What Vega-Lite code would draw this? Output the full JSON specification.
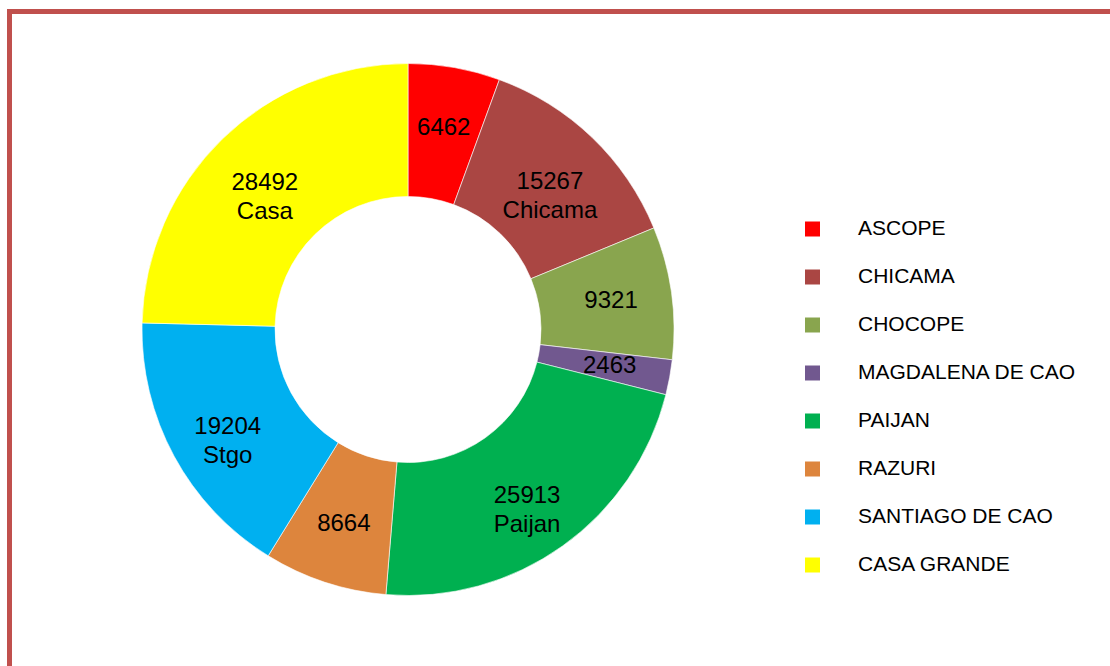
{
  "$schema": "https://vega.github.io/schema/vega-lite/v6.json",
  "autosize": {"type": "none"},
  "width": 1100.5,
  "height": 654.5,
  "padding": {"left": 9.5, "top": 11.5, "right": 0, "bottom": 0},
  "background": "#ffffff",
  "view": {
    "stroke": "#C0504D",
    "strokeWidth": 5,
    "strokeDash": [1755, 1755],
    "strokeDashOffset": 654.5
  },
  "data": {
    "values": [
      {"orden": 1, "distrito": "ASCOPE", "poblacion": 6462, "etiqueta": "6462"},
      {"orden": 2, "distrito": "CHICAMA", "poblacion": 15267, "etiqueta": "15267\nChicama"},
      {"orden": 3, "distrito": "CHOCOPE", "poblacion": 9321, "etiqueta": "9321"},
      {"orden": 4, "distrito": "MAGDALENA DE CAO", "poblacion": 2463, "etiqueta": "2463"},
      {"orden": 5, "distrito": "PAIJAN", "poblacion": 25913, "etiqueta": "25913\nPaijan"},
      {"orden": 6, "distrito": "RAZURI", "poblacion": 8664, "etiqueta": "8664"},
      {"orden": 7, "distrito": "SANTIAGO DE CAO", "poblacion": 19204, "etiqueta": "19204\nStgo"},
      {"orden": 8, "distrito": "CASA GRANDE", "poblacion": 28492, "etiqueta": "28492\nCasa"}
    ]
  },
  "encoding": {
    "theta": {"field": "poblacion", "type": "quantitative", "stack": true},
    "order": {"field": "orden", "type": "quantitative", "sort": "ascending"},
    "color": {
      "field": "distrito",
      "type": "nominal",
      "scale": {
        "domain": ["ASCOPE", "CHICAMA", "CHOCOPE", "MAGDALENA DE CAO", "PAIJAN", "RAZURI", "SANTIAGO DE CAO", "CASA GRANDE"],
        "range": ["#FF0000", "#AA4643", "#89A54E", "#71588F", "#00B050", "#DD853D", "#00B0F0", "#FFFF00"]
      },
      "legend": {
        "title": null,
        "orient": "none",
        "legendX": 792.5,
        "legendY": 207,
        "padding": 0,
        "symbolType": "square",
        "symbolSize": 225,
        "symbolStrokeWidth": 0,
        "labelFont": "Liberation Sans",
        "labelFontSize": 21,
        "labelColor": "#000000",
        "labelOffset": 35,
        "rowPadding": 26,
        "labelLimit": 400
      }
    }
  },
  "layer": [
    {
      "mark": {
        "type": "arc",
        "x": 398.5,
        "y": 318,
        "innerRadius": 133,
        "outerRadius": 266,
        "stroke": "#ffffff",
        "strokeWidth": 0.6
      }
    },
    {
      "mark": {
        "type": "text",
        "x": 398.5,
        "y": 318,
        "radius": 205,
        "font": "Liberation Sans",
        "fontSize": 24,
        "lineBreak": "\n",
        "lineHeight": 29,
        "fill": "#000000",
        "align": "center",
        "baseline": "middle"
      },
      "encoding": {
        "text": {"field": "etiqueta", "type": "nominal"},
        "color": {"value": "#000000"}
      }
    }
  ]
}
